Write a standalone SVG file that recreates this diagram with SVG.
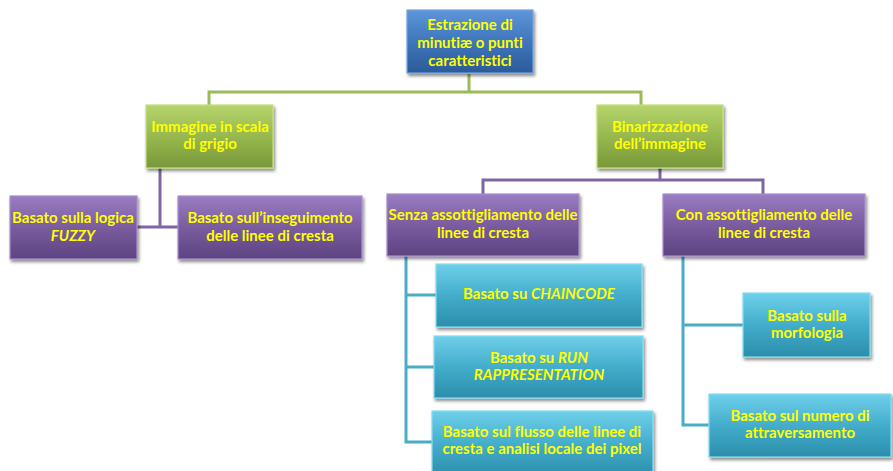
<svg xmlns="http://www.w3.org/2000/svg" width="893" height="471" viewBox="0 0 893 471">
<defs>
<linearGradient id="gBlue" x1="0" y1="0" x2="0" y2="1"><stop offset="0" stop-color="#5f95d8"/><stop offset="0.5" stop-color="#3f76bc"/><stop offset="1" stop-color="#2c5a98"/></linearGradient>
<linearGradient id="gGreen" x1="0" y1="0" x2="0" y2="1"><stop offset="0" stop-color="#b5d56c"/><stop offset="0.5" stop-color="#97b84f"/><stop offset="1" stop-color="#78983a"/></linearGradient>
<linearGradient id="gPurple" x1="0" y1="0" x2="0" y2="1"><stop offset="0" stop-color="#9a7dc2"/><stop offset="0.5" stop-color="#7a5c9f"/><stop offset="1" stop-color="#5d4381"/></linearGradient>
<linearGradient id="gCyan" x1="0" y1="0" x2="0" y2="1"><stop offset="0" stop-color="#6fd0ea"/><stop offset="0.5" stop-color="#43adcb"/><stop offset="1" stop-color="#2b8eab"/></linearGradient>
<filter id="sh" x="-10%" y="-10%" width="125%" height="135%"><feDropShadow dx="1.5" dy="2.5" stdDeviation="1.8" flood-color="#000" flood-opacity="0.45"/></filter>
</defs>
<style>
.box{filter:url(#sh);stroke-width:1.2}
.blue{fill:url(#gBlue);stroke:#6fa3e3}
.green{fill:url(#gGreen);stroke:#c3e07e}
.purple{fill:url(#gPurple);stroke:#a88dd0}
.cyan{fill:url(#gCyan);stroke:#86dcf2}
text{font-family:Lato,"Liberation Sans",sans-serif;font-weight:bold;font-size:15px;fill:#ffff00;text-anchor:middle;font-variant-ligatures:none}
.it{font-style:italic}
.c{fill:none;stroke-width:3}
.cg{stroke:#9bbb59}
.cp{stroke:#8064a2}
.cc{stroke:#4bacc6}
</style>
<g id="connectors">
<path class="c cg" d="M469 74V92M209 105V92H641V105"/>
<path class="c cp" d="M160 168V227M137 227H178"/>
<path class="c cp" d="M660 168V180M483 194V180H763V194"/>
<path class="c cc" d="M406 256V442H432M406 295H436M406 367H434"/>
<path class="c cc" d="M683 256V425H709M683 325H743"/>
</g>
<g id="root"><rect class="box blue" x="407" y="10" width="126" height="63"/>
<text x="470" y="30">Estrazione di</text><text x="470" y="48">minutiæ o punti</text><text x="470" y="66">caratteristici</text></g>
<g id="grigio"><rect class="box green" x="146" y="105" width="127" height="63"/>
<text x="210" y="132">Immagine in scala</text><text x="210" y="149">di grigio</text></g>
<g id="binarizzazione"><rect class="box green" x="597" y="105" width="126" height="63"/>
<text x="660" y="132">Binarizzazione</text><text x="660" y="149">dell’immagine</text></g>
<g id="fuzzy"><rect class="box purple" x="10" y="196" width="127" height="63"/>
<text x="73" y="223">Basato sulla logica</text><text x="73" y="241" class="it">FUZZY</text></g>
<g id="inseguimento"><rect class="box purple" x="178" y="196" width="184" height="63"/>
<text x="270" y="223">Basato sull’inseguimento</text><text x="270" y="241">delle linee di cresta</text></g>
<g id="senza"><rect class="box purple" x="387" y="194" width="192" height="62"/>
<text x="483" y="220">Senza assottigliamento delle</text><text x="483" y="238">linee di cresta</text></g>
<g id="con"><rect class="box purple" x="663" y="194" width="202" height="62"/>
<text x="764" y="220">Con assottigliamento delle</text><text x="764" y="238">linee di cresta</text></g>
<g id="chaincode"><rect class="box cyan" x="436" y="264" width="206" height="63"/>
<text x="539" y="299">Basato su <tspan class="it">CHAINCODE</tspan></text></g>
<g id="run"><rect class="box cyan" x="434" y="336" width="209" height="62"/>
<text x="539" y="363">Basato su <tspan class="it">RUN</tspan></text><text x="539" y="380" class="it">RAPPRESENTATION</text></g>
<g id="flusso"><rect class="box cyan" x="432" y="411" width="221" height="66"/>
<text x="542" y="437">Basato sul flusso delle linee di</text><text x="542" y="454">cresta e analisi locale dei pixel</text></g>
<g id="morfologia"><rect class="box cyan" x="743" y="293" width="127" height="64"/>
<text x="807" y="321">Basato sulla</text><text x="807" y="338">morfologia</text></g>
<g id="attraversamento"><rect class="box cyan" x="709" y="394" width="182" height="63"/>
<text x="800" y="421">Basato sul numero di</text><text x="800" y="438">attraversamento</text></g>
</svg>
